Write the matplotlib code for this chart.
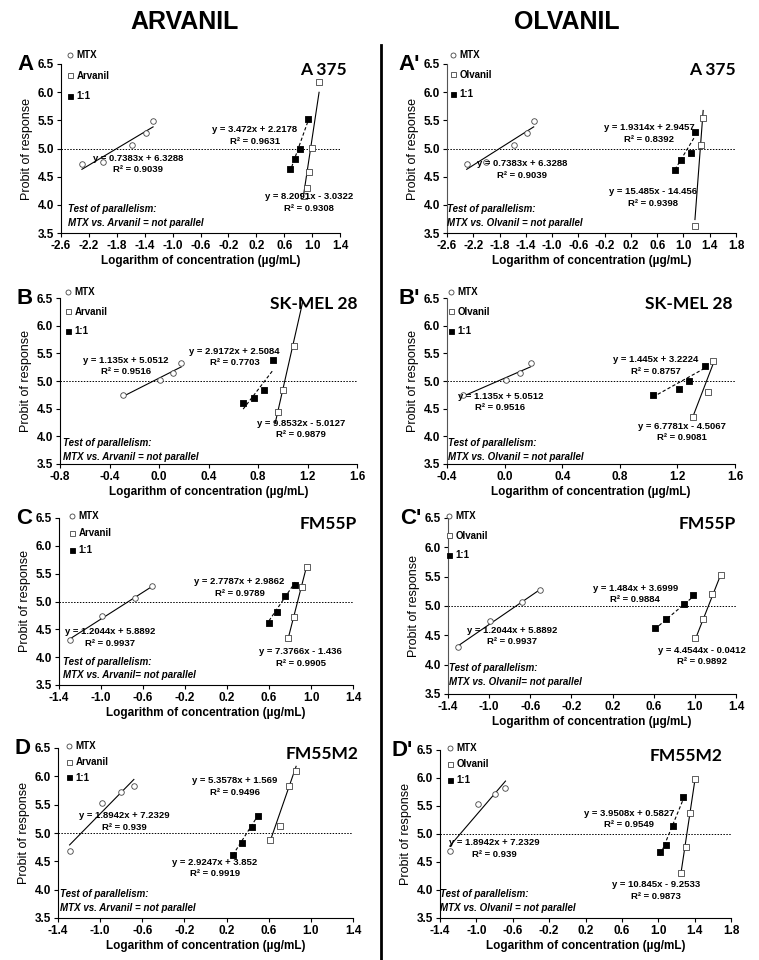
import numpy as np
import matplotlib
matplotlib.use("Agg")
import matplotlib.pyplot as plt
from matplotlib.lines import Line2D

plt.rcParams['font.family'] = ['Liberation Sans', 'DejaVu Sans']
NARROW = ['Liberation Sans Narrow', 'Liberation Sans', 'DejaVu Sans']
TITLEF = ['Lato', 'Liberation Sans', 'DejaVu Sans']

# ---- data (log conc, probit) ----
# A 375
mtx_x_a375 = [-2.30, -2.00, -1.58, -1.38, -1.28]
mtx_y_a375 = [4.72, 4.76, 5.06, 5.28, 5.49]
arv_x_a375 = [0.88, 0.92, 0.96, 1.00, 1.10]
arv_y_a375 = [4.15, 4.29, 4.58, 5.01, 6.18]
cmb_arv_x_a375 = [0.68, 0.76, 0.83, 0.94]
cmb_arv_y_a375 = [4.63, 4.81, 5.00, 5.52]
olv_x_a375 = [1.17, 1.26, 1.29]
olv_y_a375 = [3.63, 5.07, 5.54]
cmb_olv_x_a375 = [0.87, 0.97, 1.12, 1.17]
cmb_olv_y_a375 = [4.62, 4.80, 4.92, 5.30]

# SK-MEL 28
mtx_x_sk = [-0.29, 0.01, 0.11, 0.18]
mtx_y_sk = [4.75, 5.01, 5.14, 5.33]
arv_x_sk = [0.96, 1.00, 1.09]
arv_y_sk = [4.44, 4.84, 5.64]
cmb_arv_x_sk = [0.68, 0.77, 0.85, 0.92]
cmb_arv_y_sk = [4.61, 4.69, 4.84, 5.38]
olv_x_sk = [1.31, 1.41, 1.45]
olv_y_sk = [4.35, 4.80, 5.36]
cmb_olv_x_sk = [1.03, 1.21, 1.28, 1.39]
cmb_olv_y_sk = [4.75, 4.86, 5.00, 5.28]

# FM55P
mtx_x_p = [-1.30, -0.99, -0.68, -0.51]
mtx_y_p = [4.30, 4.74, 5.06, 5.27]
arv_x_p = [0.78, 0.84, 0.91, 0.96]
arv_y_p = [4.34, 4.72, 5.26, 5.62]
cmb_arv_x_p = [0.60, 0.68, 0.75, 0.85]
cmb_arv_y_p = [4.62, 4.81, 5.10, 5.30]
olv_x_p = [1.00, 1.08, 1.17, 1.25]
olv_y_p = [4.45, 4.77, 5.21, 5.52]
cmb_olv_x_p = [0.61, 0.72, 0.89, 0.98]
cmb_olv_y_p = [4.62, 4.77, 5.03, 5.18]

# FM55M2
mtx_x_m2 = [-1.29, -0.98, -0.80, -0.68]
mtx_y_m2 = [4.69, 5.53, 5.72, 5.83]
arv_x_m2 = [0.61, 0.71, 0.79, 0.86]
arv_y_m2 = [4.88, 5.13, 5.83, 6.10]
cmb_arv_x_m2 = [0.26, 0.35, 0.44, 0.50]
cmb_arv_y_m2 = [4.62, 4.82, 5.10, 5.30]
olv_x_m2 = [1.25, 1.30, 1.35, 1.40]
olv_y_m2 = [4.30, 4.77, 5.38, 5.98]
cmb_olv_x_m2 = [1.02, 1.09, 1.16, 1.27]
cmb_olv_y_m2 = [4.68, 4.80, 5.15, 5.66]

# trend lines: slope, intercept, R^2 (as printed)
fit_mtx_a375 = [0.7383, 6.3288, '0.9039']
fit_arv_a375 = [8.2091, -3.0322, '0.9308']
fit_cmb_arv_a375 = [3.472, 2.2178, '0.9631']
fit_olv_a375 = [15.485, -14.456, '0.9398']
fit_cmb_olv_a375 = [1.9314, 2.9457, '0.8392']
fit_mtx_sk = [1.135, 5.0512, '0.9516']
fit_arv_sk = [9.8532, -5.0127, '0.9879']
fit_cmb_arv_sk = [2.9172, 2.5084, '0.7703']
fit_olv_sk = [6.7781, -4.5067, '0.9081']
fit_cmb_olv_sk = [1.445, 3.2224, '0.8757']
fit_mtx_p = [1.2044, 5.8892, '0.9937']
fit_arv_p = [7.3766, -1.436, '0.9905']
fit_cmb_arv_p = [2.7787, 2.9862, '0.9789']
fit_olv_p = [4.4544, -0.0412, '0.9892']
fit_cmb_olv_p = [1.484, 3.6999, '0.9884']
fit_mtx_m2 = [1.8942, 7.2329, '0.939']
fit_arv_m2 = [5.3578, 1.569, '0.9496']
fit_cmb_arv_m2 = [2.9247, 3.852, '0.9919']
fit_olv_m2 = [10.845, -9.2533, '0.9873']
fit_cmb_olv_m2 = [3.9508, 0.5827, '0.9549']

W, H = 759, 960
fig = plt.figure(figsize=(W / 100, H / 100), dpi=100)


def add_panel(l, t, r, b):
    return fig.add_axes([l / W, 1 - b / H, (r - l) / W, (b - t) / H])


def trend(ax, x, fit, ls, x_range=None):
    lo, hi = (min(x), max(x)) if x_range is None else x_range
    xx = np.array([lo, hi])
    ax.plot(xx, fit[0] * xx + fit[1], color='k', lw=0.8, ls=ls, zorder=2)


def eq_text(fit):
    m, c, r2 = fit
    sign = '+' if c >= 0 else '-'
    return f"y = {m}x {sign} {abs(c)}\nR² = {r2}"


def draw(ax, xlim, mtx, drug, cmb, fits, drug_name, letter, title, pos,
         leg_anchor, leg_space, par_text, par_xy, title_dx=0.0,
         narrow=False, dotted=False, drug_range=None):
    tickfont = NARROW if narrow else ['Liberation Sans', 'DejaVu Sans']
    ax.set_xlim(*xlim)
    ax.set_ylim(3.5, 6.5)
    ticks = np.round(np.arange(xlim[0], xlim[1] + 0.01, 0.4), 1)
    ax.set_xticks(ticks)
    ax.set_xticklabels([f"{t + 0.0:.1f}" for t in ticks], family=tickfont,
                       fontweight='bold', fontsize=8.5)
    yt = np.arange(3.5, 6.51, 0.5)
    ax.set_yticks(yt)
    ax.set_yticklabels([f"{t:.1f}" for t in yt], fontweight='bold', fontsize=8.5)
    ax.tick_params(direction='out', length=3, width=0.8, pad=2)
    for s in ['top', 'right']:
        ax.spines[s].set_visible(False)
    ax.spines['bottom'].set_linewidth(0.8)
    ax.spines['left'].set_linewidth(0.8)
    if dotted:
        ax.spines['left'].set_linestyle((0, (1, 1)))
        ax.spines['left'].set_color('#555555')
    ax.set_xlabel("Logarithm of concentration (µg/mL)", family=tickfont,
                  fontweight='bold', fontsize=8.5, labelpad=2)
    ax.set_ylabel("Probit of response", fontsize=9, labelpad=3)

    ax.axhline(5.0, color='k', lw=0.7, ls=(0, (1.5, 1.5)), zorder=1)

    trend(ax, mtx[0], fits[0], '-')
    trend(ax, drug[0], fits[1], '-', drug_range)
    trend(ax, cmb[0], fits[2], (0, (3, 2)))
    ax.scatter(mtx[0], mtx[1], s=16, marker='o', facecolor='white',
               edgecolor='#444444', linewidth=0.6, zorder=3)
    ax.scatter(drug[0], drug[1], s=16, marker='s', facecolor='white',
               edgecolor='#444444', linewidth=0.6, zorder=3)
    ax.scatter(cmb[0], cmb[1], s=16, marker='s', facecolor='black',
               edgecolor='black', linewidth=0.6, zorder=3)

    for fit, (px, py) in zip(fits, pos):
        ax.text(px, py, eq_text(fit), ha='center', va='center', fontsize=6.8,
                fontweight='bold', linespacing=1.35, zorder=4)

    handles = [
        Line2D([], [], ls='none', marker='o', ms=3.6, mfc='white', mec='#444444', mew=0.6),
        Line2D([], [], ls='none', marker='s', ms=3.6, mfc='white', mec='#444444', mew=0.6),
        Line2D([], [], ls='none', marker='s', ms=3.6, mfc='black', mec='black', mew=0.6),
    ]
    ax.legend(handles, ['MTX', drug_name, '1:1'], loc='upper left',
              bbox_to_anchor=leg_anchor, frameon=False,
              prop={'weight': 'bold', 'size': 7}, handlelength=0.6,
              handletextpad=0.4, labelspacing=leg_space, borderaxespad=0,
              borderpad=0)

    ax.text(par_xy[0], par_xy[1], "Test of parallelism:\n" + par_text,
            transform=ax.transAxes, ha='left', va='bottom', fontsize=7,
            fontweight='bold', style='italic', linespacing=1.45)
    ax.text(1.0 + title_dx, 1.01, title, transform=ax.transAxes, ha='right',
            va='top', family=TITLEF, fontweight='bold', fontsize=12.5)

    bb = ax.get_position()
    fig.text(bb.x0 - 27 / W, bb.y1, letter, ha='right', va='center',
             fontsize=16, fontweight='bold')


# headers and divider
fig.text(185 / W, 1 - 22 / H, "ARVANIL", ha='center', va='center',
         family=NARROW, fontweight='bold', fontsize=18)
fig.text(567 / W, 1 - 22 / H, "OLVANIL", ha='center', va='center',
         family=NARROW, fontweight='bold', fontsize=18)
fig.add_artist(Line2D([381 / W, 381 / W], [1 - 45 / H, 0.0],
                      transform=fig.transFigure, color='k', lw=2))

par_arv = "MTX vs. Arvanil = not parallel"
par_olv = "MTX vs. Olvanil = not parallel"

# A
ax = add_panel(61, 64, 340, 233)
draw(ax, (-2.6, 1.4), (mtx_x_a375, mtx_y_a375), (arv_x_a375, arv_y_a375),
     (cmb_arv_x_a375, cmb_arv_y_a375),
     (fit_mtx_a375, fit_arv_a375, fit_cmb_arv_a375), 'Arvanil', 'A', 'A 375',
     [(-1.5, 4.72), (0.96, 4.04), (0.18, 5.23)], (0.021, 1.083), 1.1,
     par_arv, (0.026, 0.03), title_dx=0.025, narrow=True)

# A'
ax = add_panel(447, 64, 736, 233)
draw(ax, (-2.6, 1.8), (mtx_x_a375, mtx_y_a375), (olv_x_a375, olv_y_a375),
     (cmb_olv_x_a375, cmb_olv_y_a375),
     (fit_mtx_a375, fit_olv_a375, fit_cmb_olv_a375), 'Olvanil', "A'", 'A 375',
     [(-1.46, 4.63), (0.53, 4.13), (0.48, 5.27)], (0.01, 1.083), 1.0,
     par_olv, (0.0, 0.03), narrow=True, dotted=True, drug_range=(1.175, 1.30))

# B
ax = add_panel(60, 298, 357, 464)
draw(ax, (-0.8, 1.6), (mtx_x_sk, mtx_y_sk), (arv_x_sk, arv_y_sk),
     (cmb_arv_x_sk, cmb_arv_y_sk),
     (fit_mtx_sk, fit_arv_sk, fit_cmb_arv_sk), 'Arvanil', 'B', 'SK-MEL 28',
     [(-0.27, 5.27), (1.15, 4.13), (0.61, 5.43)], (0.017, 1.066), 1.0,
     par_arv, (0.011, 0.015), drug_range=(0.94, 1.16))

# B'
ax = add_panel(447, 298, 735, 464)
draw(ax, (-0.4, 1.6), (mtx_x_sk, mtx_y_sk), (olv_x_sk, olv_y_sk),
     (cmb_olv_x_sk, cmb_olv_y_sk),
     (fit_mtx_sk, fit_olv_sk, fit_cmb_olv_sk), 'Olvanil', "B'", 'SK-MEL 28',
     [(-0.03, 4.62), (1.23, 4.08), (1.05, 5.28)], (0.003, 1.066), 1.0,
     par_olv, (0.003, 0.015), title_dx=-0.01, dotted=True)

# C
ax = add_panel(59, 518, 353, 685)
draw(ax, (-1.4, 1.4), (mtx_x_p, mtx_y_p), (arv_x_p, arv_y_p),
     (cmb_arv_x_p, cmb_arv_y_p),
     (fit_mtx_p, fit_arv_p, fit_cmb_arv_p), 'Arvanil', 'C', 'FM55P',
     [(-0.91, 4.35), (0.9, 3.99), (0.32, 5.25)], (0.034, 1.04), 0.7,
     "MTX vs. Arvanil= not parallel", (0.014, 0.027), title_dx=0.013)

# C'
ax = add_panel(448, 518, 736, 694)
draw(ax, (-1.4, 1.4), (mtx_x_p, mtx_y_p), (olv_x_p, olv_y_p),
     (cmb_olv_x_p, cmb_olv_y_p),
     (fit_mtx_p, fit_olv_p, fit_cmb_olv_p), 'Olvanil', "C'", 'FM55P',
     [(-0.78, 4.49), (1.07, 4.15), (0.42, 5.2)], (-0.007, 1.04), 1.0,
     "MTX vs. Olvanil= not parallel", (0.003, 0.04), dotted=True)

# D
ax = add_panel(58, 748, 353, 918)
draw(ax, (-1.4, 1.4), (mtx_x_m2, mtx_y_m2), (arv_x_m2, arv_y_m2),
     (cmb_arv_x_m2, cmb_arv_y_m2),
     (fit_mtx_m2, fit_arv_m2, fit_cmb_arv_m2), 'Arvanil', 'D', 'FM55M2',
     [(-0.77, 5.2), (0.28, 5.82), (0.09, 4.38)], (0.027, 1.04), 0.6,
     par_arv, (0.006, 0.03), title_dx=0.017)

# D'
ax = add_panel(440, 750, 731, 918)
draw(ax, (-1.4, 1.8), (mtx_x_m2, mtx_y_m2), (olv_x_m2, olv_y_m2),
     (cmb_olv_x_m2, cmb_olv_y_m2),
     (fit_mtx_m2, fit_olv_m2, fit_cmb_olv_m2), 'Olvanil', "D'", 'FM55M2',
     [(-0.8, 4.74), (0.975, 3.99), (0.68, 5.27)], (0.024, 1.04), 0.6,
     par_olv, (0.0, 0.03), title_dx=-0.03)

fig.savefig("out.png", dpi=100)
